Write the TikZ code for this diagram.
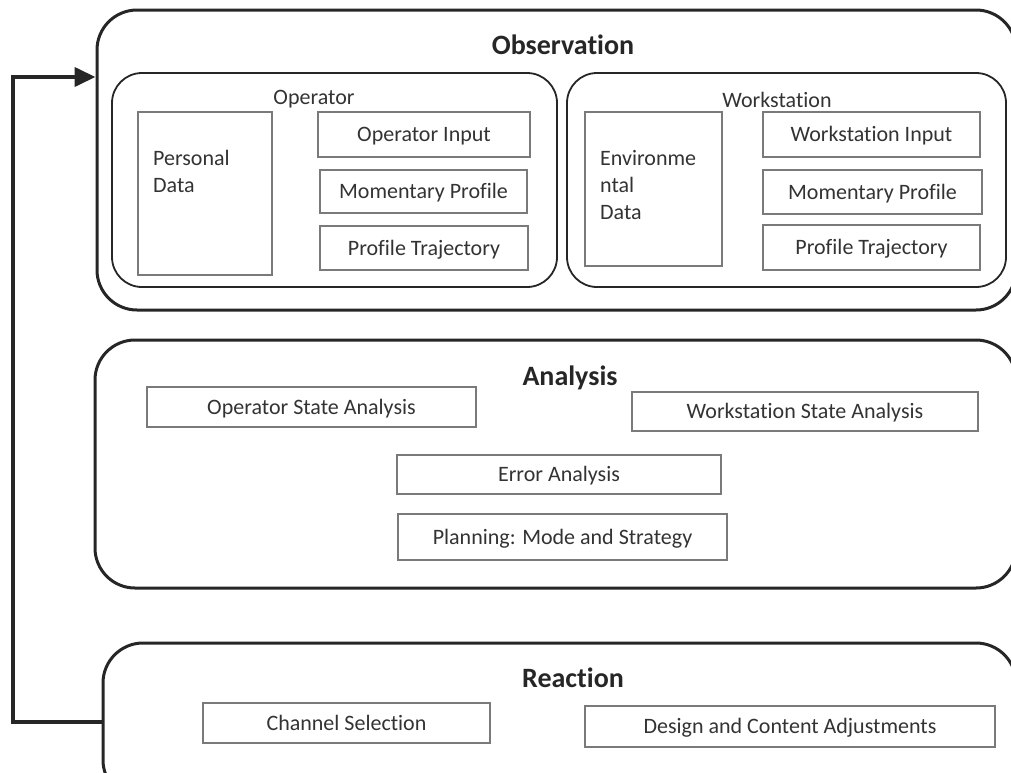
\documentclass[tikz,border=0pt]{standalone}
\usepackage{fontspec}
\setmainfont{Carlito}[Ligatures=NoCommon]
\usepackage{xcolor}
\usetikzlibrary{arrows.meta}

\definecolor{inkgray}{HTML}{333333}
\definecolor{boxgray}{HTML}{7A7A7A}

\begin{document}
\begin{tikzpicture}[x=1pt,y=-1pt]
\tikzset{stage/.style={draw=black!85,line width=3pt,rounded corners=40pt,inner sep=0pt}}
\tikzset{group/.style={draw=black!85,line width=1.8pt,rounded corners=30pt,inner sep=0pt}}
\tikzset{item/.style={draw=boxgray,line width=1.2pt,inner sep=0pt,text=inkgray,text height=14pt,text depth=0pt}}
\tikzset{title/.style={font=\fontsize{28}{32}\selectfont\bfseries,text=black!85}}
\tikzset{every node/.append style={font=\fontsize{22}{27}\selectfont}}

\useasboundingbox (0,0) rectangle (1011,772);
\clip (0,0) rectangle (1011,772);

% observation
\node[stage,minimum width=919pt,minimum height=300pt] (obs) at (556.5,160) {};
\node[title] (obstitle) at (563,45) {Observation};
\node[group,minimum width=445pt,minimum height=214pt] (opbox) at (334.5,180) {};
\node[group,minimum width=439pt,minimum height=214pt] (wsbox) at (786.5,180) {};
\node[text=inkgray] (oplabel) at (314,99) {Operator};
\node[text=inkgray] (wslabel) at (777,100) {Workstation};

\node[item,minimum width=134pt,minimum height=163pt] (pd) at (205,193.5) {};
\node[text=inkgray,align=left,anchor=north west,inner sep=0pt] (pdtext) at (153,150) {Personal\\Data};
\node[item,minimum width=212pt,minimum height=45pt] (opin) at (424,134.5) {Operator Input};
\node[item,minimum width=207pt,minimum height=43pt] (opmom) at (423.5,191.5) {Momentary Profile};
\node[item,minimum width=208pt,minimum height=44pt] (optraj) at (424,248) {Profile Trajectory};

\node[item,minimum width=137pt,minimum height=154pt] (env) at (653.5,189) {};
\node[text=inkgray,align=left,anchor=north west,inner sep=0pt] (envtext) at (600,150) {Environme\\ntal\\Data};
\node[item,minimum width=217pt,minimum height=45pt] (wsin) at (871.5,134.5) {Workstation Input};
\node[item,minimum width=219pt,minimum height=44pt] (wsmom) at (872.5,192) {Momentary Profile};
\node[item,minimum width=217pt,minimum height=45pt] (wstraj) at (871.5,247.5) {Profile Trajectory};

% analysis
\node[stage,minimum width=921pt,minimum height=248pt] (ana) at (555.5,464) {};
\node[title] (anatitle) at (570,378) {Analysis};
\node[item,minimum width=329pt,minimum height=40pt] (osa) at (311.5,407) {Operator State Analysis};
\node[item,minimum width=346pt,minimum height=39pt] (wsa) at (805,411.5) {Workstation State Analysis};
\node[item,minimum width=324pt,minimum height=39pt] (err) at (559,474.5) {Error Analysis};
\node[item,minimum width=329pt,minimum height=46pt] (plan) at (562.5,537) {Planning: Mode and Strategy};

% reaction
\node[stage,minimum width=913pt,minimum height=157pt] (rea) at (559.5,721.5) {};
\node[title] (reatitle) at (573,678) {Reaction};
\node[item,minimum width=287pt,minimum height=40pt] (chan) at (346.5,723) {Channel Selection};
\node[item,minimum width=410pt,minimum height=41pt] (dca) at (790,726.5) {Design and Content Adjustments};

% feedback loop
\coordinate (turn) at (13,77);
\draw[line width=4pt,black!85,-{Triangle[length=21pt,width=19pt]}] (rea.west) -| (turn) -- (turn -| obs.west);

\end{tikzpicture}
\end{document}
